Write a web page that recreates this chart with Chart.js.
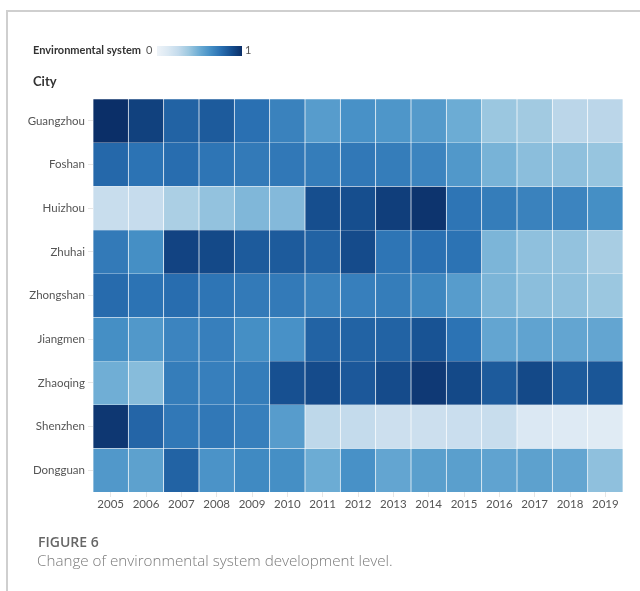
<!DOCTYPE html>
<html>
<head>
<meta charset="utf-8">
<script src="https://cdn.jsdelivr.net/npm/chart.js@4"></script>
<style>
  html, body { margin: 0; padding: 0; background: #fff; }
  #wrap { position: relative; width: 640px; height: 591px; overflow: hidden; }
  #frame { position: absolute; left: 6px; top: 10px; width: 640px; height: 600px;
           border-left: 2px solid #cfcfcf; border-top: 2px solid #cfcfcf; }
  canvas { position: absolute; left: 0; top: 0; }
  .txt { position: absolute; font-family: "Lato", "Open Sans", sans-serif; white-space: nowrap; }
  #legTitle { left: 33px; top: 43px; font-size: 11px; font-weight: 700; color: #333; }
  #legMin { left: 146px; top: 43px; font-size: 11px; color: #555; }
  #legBar { position: absolute; left: 157px; top: 46px; width: 85px; height: 10px; }
  #legMax { left: 245px; top: 43px; font-size: 11px; color: #555; }
  #cityTitle { left: 33px; top: 73px; font-size: 13px; font-weight: 700; color: #333; }
  #figNo { left: 38px; top: 532px; font-size: 14px; font-weight: 600; color: #666;
           font-family: "Open Sans", sans-serif; }
  #figCap { left: 37px; top: 550px; font-size: 15.2px; font-weight: 300; color: #7a7a7a;
            font-family: "Open Sans", sans-serif; }
</style>
</head>
<body>
<div id="wrap">
  <div id="frame"></div>
  <canvas id="c" width="640" height="591"></canvas>
  <div class="txt" id="legTitle">Environmental system</div>
  <div class="txt" id="legMin">0</div>
  <div id="legBar"></div>
  <div class="txt" id="legMax">1</div>
  <div class="txt" id="cityTitle">City</div>
  <div class="txt" id="figNo">FIGURE 6</div>
  <div class="txt" id="figCap">Change of environmental system development level.</div>
</div>
<script>
// Years along the bottom, cities listed top to bottom
const years = ["2005","2006","2007","2008","2009","2010","2011","2012","2013","2014","2015","2016","2017","2018","2019"];
const cities = ["Guangzhou","Foshan","Huizhou","Zhuhai","Zhongshan","Jiangmen","Zhaoqing","Shenzhen","Dongguan"];

// Environmental system development level (0–1), one array per city
const guangzhou = [1.00,0.93,0.80,0.83,0.75,0.68,0.57,0.62,0.60,0.58,0.50,0.38,0.36,0.28,0.28];
const foshan    = [0.78,0.74,0.76,0.73,0.71,0.72,0.70,0.72,0.70,0.67,0.59,0.47,0.42,0.41,0.39];
const huizhou   = [0.23,0.24,0.33,0.40,0.45,0.44,0.88,0.88,0.94,0.98,0.73,0.70,0.68,0.67,0.63];
const zhuhai    = [0.71,0.63,0.92,0.90,0.83,0.83,0.80,0.89,0.73,0.75,0.74,0.46,0.41,0.40,0.34];
const zhongshan = [0.77,0.74,0.76,0.73,0.71,0.71,0.68,0.69,0.70,0.66,0.57,0.46,0.42,0.41,0.38];
const jiangmen  = [0.63,0.59,0.67,0.69,0.63,0.62,0.80,0.80,0.80,0.86,0.74,0.53,0.54,0.53,0.53];
const zhaoqing  = [0.49,0.43,0.70,0.69,0.70,0.87,0.89,0.84,0.89,0.96,0.90,0.83,0.90,0.83,0.85];
const shenzhen  = [0.97,0.79,0.72,0.72,0.69,0.57,0.27,0.25,0.21,0.21,0.22,0.23,0.13,0.11,0.10];
const dongguan  = [0.59,0.55,0.80,0.61,0.65,0.63,0.50,0.62,0.53,0.56,0.56,0.54,0.55,0.53,0.41];

const levels = [guangzhou, foshan, huizhou, zhuhai, zhongshan, jiangmen, zhaoqing, shenzhen, dongguan];

// Sequential blue scale
const blueStops = ["#eef3f8","#dce9f3","#c4dbec","#9dc8e0","#6cacd4","#4690c6","#2a70b2","#164f90","#0b2f68"];
function hexToRgb(h) { return [1,3,5].map(i => parseInt(h.slice(i, i + 2), 16)); }
function blues(t) {
  t = Math.max(0, Math.min(1, t));
  const pos = t * (blueStops.length - 1);
  const i = Math.min(Math.floor(pos), blueStops.length - 2);
  const f = pos - i;
  const a = hexToRgb(blueStops[i]), b = hexToRgb(blueStops[i + 1]);
  const c = a.map((v, k) => Math.round(v + (b[k] - v) * f));
  return `rgb(${c[0]},${c[1]},${c[2]})`;
}
document.getElementById("legBar").style.background =
  "linear-gradient(to right," + blueStops.join(",") + ")";

// One stacked row per city; bottom row first so Guangzhou ends up on top
const datasets = cities.slice().reverse().map((city, r) => {
  const vals = levels[cities.length - 1 - r];
  return {
    label: city,
    data: years.map(() => 1),
    backgroundColor: vals.map(blues),
    borderColor: "rgba(255,255,255,0.16)",
    borderWidth: 0.7,
    barPercentage: 1,
    categoryPercentage: 1
  };
});

const tickFont = { family: "Lato, 'Open Sans', sans-serif", size: 11.5 };

new Chart(document.getElementById("c"), {
  type: "bar",
  data: { labels: years, datasets },
  options: {
    responsive: false,
    animation: false,
    layout: { padding: { left: 0, top: 99, right: 17, bottom: 79 } },
    plugins: { legend: { display: false }, tooltip: { enabled: false } },
    scales: {
      x: {
        stacked: true,
        grid: { offset: false, drawOnChartArea: false, drawTicks: true, tickLength: 5, color: "#e6e6e6" },
        border: { display: false },
        ticks: { color: "#555", font: tickFont, padding: 0, maxRotation: 0 },
        afterFit: (s) => { s.height = 20; }
      },
      y: {
        stacked: true,
        min: 0,
        max: cities.length,
        afterBuildTicks: (s) => { s.ticks = cities.map((c, i) => ({ value: i + 0.5 })); },
        grid: { drawOnChartArea: false, drawTicks: true, tickLength: 5, color: "#e6e6e6" },
        border: { display: false },
        ticks: {
          color: "#555",
          font: tickFont,
          padding: 3,
          callback: (v) => cities[cities.length - 1 - Math.floor(v)]
        },
        afterFit: (s) => { s.width = 93; }
      }
    }
  }
});
</script>
</body>
</html>
